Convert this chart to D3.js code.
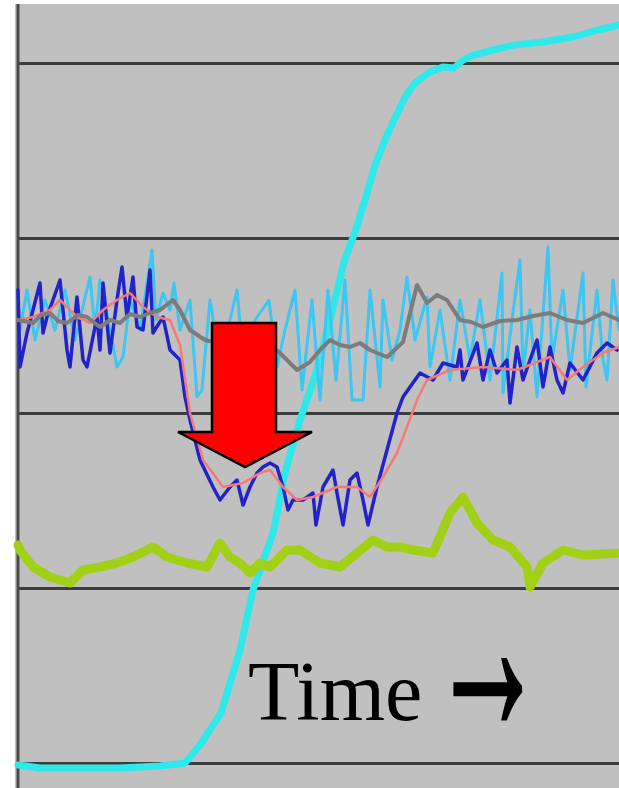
<!DOCTYPE html>
<html>
<head>
<meta charset="utf-8">
<script src="https://cdn.jsdelivr.net/npm/d3@7"></script>
<style>
  body { margin: 0; background: #fff; }
  svg { display: block; }
</style>
</head>
<body>
<svg id="chart" width="619" height="788"></svg>
<script>
// values: t = time, v = signal (gridlines at 0,35,70,105,140)
const gridTicks = [0, 35, 70, 105, 140];

const cyanMain = [[0,-0.4],[4.4,-1],[12.4,-1],[20.4,-1],[28.4,-0.6],[33.4,0],[36.4,3.6],[40.6,10],
  [44.4,22.6],[47,34.6],[51,46],[53.4,58],[56.4,68.6],[59.6,78],[62.4,88.6],[65.2,100.2],[67.4,106.2],
  [69.4,112.6],[71.4,119.6],[73.4,124.6],[75.4,129],[77.4,133.2],[79.4,136],[82.4,138.2],[85,139.2],
  [87.2,139],[89,140.6],[91.2,141.6],[95,142.6],[99.2,143.6],[105,144.2],[111,145.2],[116,146.6],[120.2,147.6]];

const skyBlue = [[0,92.6],[0.4,86.6],[1.8,94.6],[3.4,84.6],[5.4,92.6],[7.4,86.6],[9.4,94.6],[11.4,84.6],
  [14.4,97.2],[15.4,86.6],[16.4,96.6],[18,88.6],[19.8,79.2],[21,81.2],[22.4,92.6],[24.4,86.6],[26.8,102.6],
  [27.6,88.6],[29,94],[30.4,90.6],[31.2,96],[32.4,86.6],[34.4,92.6],[35.8,73.2],[36.8,74.6],[38.4,92.6],
  [40.4,80.6],[42.4,88.6],[43.8,94.6],[45.4,76.6],[47.4,88.6],[50.2,92.6],[51.8,79.2],[53.4,86.6],
  [55.4,94.6],[56.8,74.6],[58.8,92.6],[60.4,72.6],[62,94.6],[63.6,76.6],[65.4,96.6],[66.8,72.6],[69,72.6],
  [70.4,94.6],[72.4,75.2],[73,92.6],[74.8,80.6],[76.4,86.6],[77.8,97.2],[79.4,84.6],[81.8,93.2],[82.4,79.2],
  [84.4,90.6],[86.4,76.6],[88.4,92.6],[90.4,80.6],[92.4,92.6],[94.4,76.6],[96.8,98],[97,74],[98.8,88.6],
  [100.4,100.6],[101,78],[102.4,90.6],[103.8,73.2],[106,103.2],[106.8,80.6],[109,94.6],[110.4,78.6],
  [113,98],[113.6,75.2],[115.8,94.6],[117,80.6],[117.8,76.6],[119,96.6],[120.2,86.6]];

const darkBlue = [[0,94.6],[0.4,79.2],[1.8,86],[3,90.6],[4.4,96],[5,86],[5.8,89.2],[7,92.6],[8.4,96.6],
  [9.8,82.6],[10.4,79.2],[11.8,93.2],[13,80.6],[13.8,79.2],[15.8,89.2],[16.4,82.6],[17,96],[18.4,82],
  [19.8,92.6],[20.8,99.2],[21.8,89.2],[23,97.2],[23.8,87.2],[25,86.6],[26.4,98.6],[27,86],[29,89.2],
  [30.4,82.6],[32.4,80.6],[33.4,73.2],[34.4,68.6],[36.4,60.6],[39,55.2],[40.4,52.6],[42.4,55.2],[43.8,56.6],
  [45,51.6],[46.4,55.2],[47.8,58],[49,59.2],[50.4,60],[51.8,59.2],[53,55.2],[54,50.6],[55,52.6],[57,52.6],
  [59,54],[59.6,47.6],[61,55.2],[63,58.6],[63.8,54],[65,47.6],[66.4,56.6],[67.8,58],[69,52.6],[70,47.6],
  [71.8,55.2],[73.8,62.6],[75.8,70],[77,73.2],[78.4,75.2],[80.4,78],[83,76.6],[85,80],[87.8,79.2],
  [88.4,82.6],[89,76.6],[91.8,84],[93,76.6],[94.4,82.6],[95.8,78],[97.8,80.6],[98.4,72],[99.8,83.2],
  [101,76.6],[103.8,84.6],[105,75.2],[106.4,83.2],[107.8,76.6],[109,74],[110.4,80],[113,76.6],[115.8,82],
  [117.8,84],[119.8,82.6]];

const salmon = [[0,88.6],[3,89.2],[6.4,90.6],[8.4,92.6],[11.8,89.2],[14.4,88],[17,90.6],[19.8,92.6],
  [22.4,94],[25,91.2],[27.8,89.2],[30.4,88.6],[32.4,83.6],[34.4,70],[37,60.6],[41,55.2],[45,56],[48.4,58],
  [50.4,58.6],[53,55.2],[55.8,52.6],[59,53.2],[63.8,55.2],[67.8,55.2],[70.4,53.2],[73,57.2],[75.8,62],
  [77.8,67.2],[79.8,72.6],[81.8,76.6],[86.4,78.6],[93,79.2],[99.8,78.6],[106.4,81.2],[109.8,76.6],
  [113,79.2],[117,82],[120.2,83.2]];

const greyLine = [[0,88.6],[3,88],[4.6,89.6],[6.4,90],[8,88.4],[9.8,88],[12,89.6],[13.8,89.2],[16.4,87.2],
  [18.4,88.6],[20.4,88],[22.4,89.8],[24.4,89.2],[26.4,90],[28.4,90.6],[31,92.6],[32.4,90.6],[34.4,86.6],
  [37.4,84.6],[40,84],[42.2,83.2],[45,84.2],[47.8,83.2],[50,83.8],[52.4,82],[55.8,78.6],[58.4,80.2],
  [60.4,82.6],[62.4,84.6],[64.4,83.6],[66.4,83.2],[68.4,84],[70.4,82.6],[73.8,81.2],[77,84.2],[79.8,95.6],
  [81.8,92],[83.8,93.6],[85.8,92.6],[88.4,88.6],[90.6,88.2],[93,87.2],[96.4,88.4],[99.8,88.6],[103,89.4],
  [106.4,90],[109.8,88.6],[113,88],[117,90],[120.2,88.6]];

const greenLine = [[0,43.6],[0.4,42.6],[3,39.2],[6.4,37.2],[10.4,36],[13,38.6],[16.4,39.2],[19.8,40],
  [23,41.2],[27,43.2],[29.8,41.2],[33.8,40],[37.8,39.2],[40.4,44],[42.4,41.2],[44.4,40],[46.4,38],
  [48.4,40],[50.4,39.2],[53.8,42.6],[56.4,42.6],[60.4,40],[64.4,39.2],[67.8,42],[71,44.6],[73.8,43.2],
  [76.4,43.2],[79,42.6],[83,42],[86.4,50],[89,53.2],[91.8,48],[95,44.6],[98.4,43.2],[101.8,39.2],
  [102.4,35.2],[105,40],[109,42.6],[113,41.6],[120.2,42]];

// red arrow outline in data units (shaft + head)
const arrowPts = [[38.8,88],[51.6,88],[51.6,66.2],[58.8,66.2],[45.4,59.2],[32,66.2],[38.8,66.2]];

const labelWord = 'Time';
const labelArrow = '\u2192';

const width = 619, height = 788;
const fig = {left: 18, right: 618, top: 4};

const svg = d3.select('#chart');

var x = d3.scaleLinear()
          .domain([0, 120])
          .range([fig.left, fig.right])
          ;
var y = d3.scaleLinear()
          .domain([0, 140])
          .range([763, 63])
          ;

// soft edges like the scanned original
svg.append('defs')
  .append('filter')
    .attr('id', 'soft')
    .append('feGaussianBlur')
      .attr('stdDeviation', 0.6)
  ;

// grey plot area
svg.append('rect')
  .attr('x', 15)
  .attr('y', fig.top)
  .attr('width', width - 15)
  .attr('height', height - fig.top)
  .attr('fill', '#c0c0c0')
  ;

// horizontal gridlines
const yGrid = d3.axisLeft(y)
  .tickValues(gridTicks)
  .tickSize(-(width - fig.left))
  .tickFormat('')
  ;
svg.append('g')
  .attr('transform', 'translate(' + fig.left + ',0)')
  .call(yGrid)
  .call(g => g.select('.domain').remove())
  .selectAll('line')
    .attr('stroke', '#3c3c3c')
    .attr('stroke-width', 3)
  ;

// left axis line
svg.append('line')
  .attr('x1', fig.left).attr('x2', fig.left)
  .attr('y1', fig.top).attr('y2', height)
  .attr('stroke', '#4a4a4a')
  .attr('stroke-width', 3)
  ;

const line = d3.line()
  .x(d => x(d[0]))
  .y(d => y(d[1]))
  ;

const series = [
  {data: cyanMain,  color: '#2ee8ea', w: 7},
  {data: skyBlue,   color: '#3cc6f2', w: 3},
  {data: darkBlue,  color: '#2424c8', w: 3.5},
  {data: salmon,    color: '#f47a76', w: 2.5},
  {data: greyLine,  color: '#7c7c7c', w: 4},
  {data: greenLine, color: '#a2d014', w: 9}
];

svg.append('g')
  .attr('filter', 'url(#soft)')
  .selectAll('.series')
  .data(series)
  .join('path')
    .attr('class', 'series')
    .attr('d', d => line(d.data))
    .attr('fill', 'none')
    .attr('stroke', d => d.color)
    .attr('stroke-width', d => d.w)
    .attr('stroke-linejoin', 'round')
    .attr('stroke-linecap', 'round')
  ;

// big red arrow
svg.append('path')
  .attr('d', line(arrowPts) + 'Z')
  .attr('fill', '#ff0000')
  .attr('stroke', '#000')
  .attr('stroke-width', 2.5)
  .attr('stroke-linejoin', 'miter')
  ;

// label: "Time" plus a heavier arrow glyph
svg.append('text')
  .attr('x', 248)
  .attr('y', 720)
  .attr('font-family', '"Liberation Serif", "Times New Roman", serif')
  .attr('font-size', '84px')
  .attr('fill', '#000')
  .text(labelWord)
  ;
svg.append('text')
  .attr('transform', 'translate(431,690) scale(1.35,3)')
  .attr('x', 0)
  .attr('y', 13.6)
  .attr('font-family', '"Liberation Serif", "Times New Roman", serif')
  .attr('font-size', '84px')
  .attr('fill', '#000')
  .attr('stroke', '#000')
  .attr('stroke-width', 1.2)
  .text(labelArrow)
  ;
</script>
</body>
</html>
